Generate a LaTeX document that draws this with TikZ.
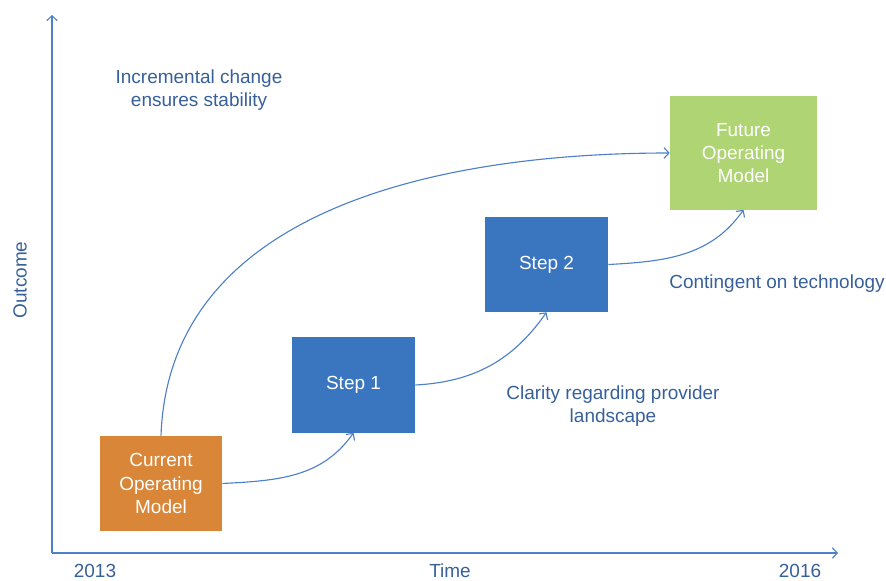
\documentclass[tikz,border=0pt]{standalone}
\usepackage{fontspec}
\setmainfont{Liberation Sans}
\usepackage{tikz}
\usetikzlibrary{arrows.meta}
\definecolor{linkblue}{HTML}{4D80C8}
\definecolor{labelblue}{HTML}{37609A}
\definecolor{curorange}{HTML}{D98639}
\definecolor{stepblue}{HTML}{3A76BF}
\definecolor{futgreen}{HTML}{AFD473}
\tikzset{
  phase/.style={draw=none,text=white,align=center,inner sep=0pt},
  link/.style={linkblue,line width=0.8pt,-{Straight Barb[length=3.5pt,width=7.5pt]}},
  lbl/.style={text=labelblue,align=center}
}

\begin{document}
\begin{tikzpicture}[x=0.025cm,y=-0.025cm,font=\fontsize{13.5}{16.5}\selectfont,line join=round]
\useasboundingbox (0,0) rectangle (886,580);
% --- axes
\coordinate (origin) at (52,553);
\coordinate (ytip) at (52,15);
\coordinate (xtip) at (838,553);
\draw[link] (origin) -- (ytip);
\draw[link] (origin) -- (xtip);
\node[lbl,rotate=90] (outcome) at (20,280) {Outcome};
\node[lbl] (y2013) at (95,571) {2013};
\node[lbl] (time) at (450,571) {Time};
\node[lbl] (y2016) at (800,571) {2016};
% --- phases
\node[phase,fill=curorange,minimum width=3.05cm,minimum height=2.375cm] (cur) at (161,483.5) {Current\\Operating\\Model};
\node[phase,fill=stepblue,minimum width=3.075cm,minimum height=2.375cm] (s1) at (353.5,385) {Step 1};
\node[phase,fill=stepblue,minimum width=3.075cm,minimum height=2.375cm] (s2) at (546.5,264.5) {Step 2};
\node[phase,fill=futgreen,minimum width=3.675cm,minimum height=2.825cm] (fut) at (743.5,153) {Future\\Operating\\Model};
% --- transitions
\draw[link] (cur.east) to[out=3,in=-125] (s1.south);
\draw[link] (s1.east) to[out=3,in=-125] (s2.south);
\draw[link] (s2.east) to[out=3,in=-125] (fut.south);
\draw[link] (cur.north) to[out=88,in=180] (fut.west);
% --- notes
\node[lbl] (incr) at (199,90) {Incremental change\\ensures stability};
\node[lbl] (clarity) at (613,406) {Clarity regarding provider\\landscape};
\node[lbl] (contingent) at (777,284) {Contingent on technology};
\end{tikzpicture}
\end{document}
